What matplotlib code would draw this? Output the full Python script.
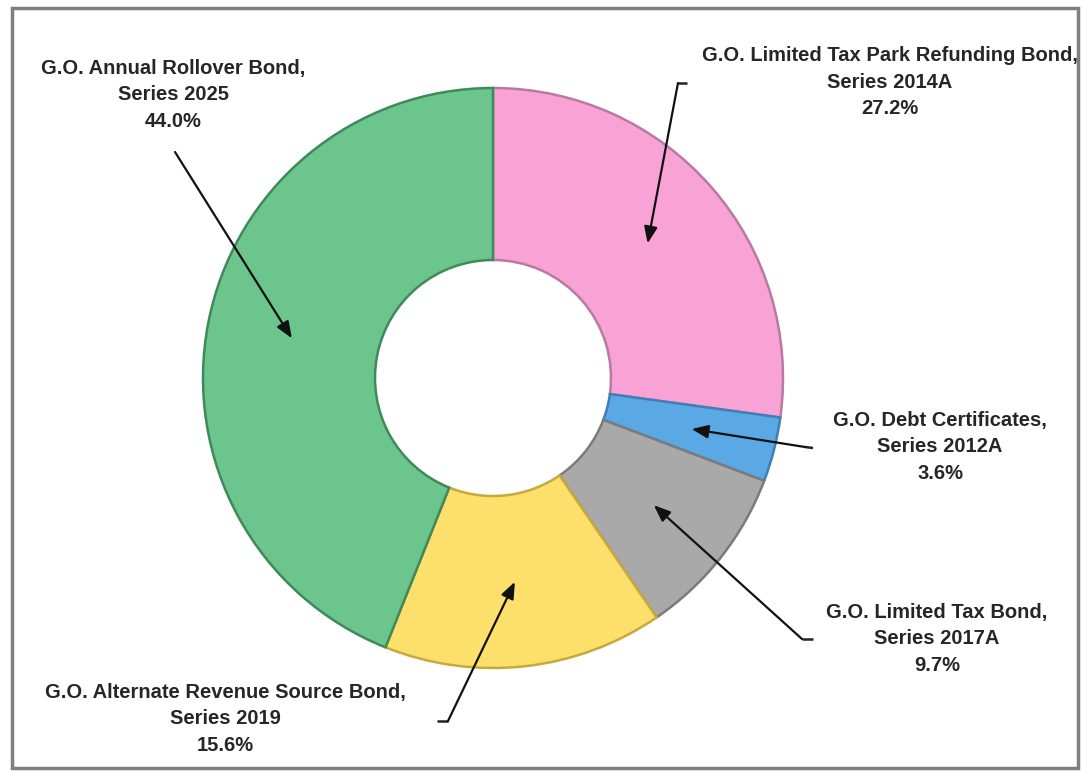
import numpy as np
import matplotlib.pyplot as plt
from matplotlib.patches import Rectangle

# debt shares, clockwise from 12 o'clock
names = [
    "G.O. Limited Tax Park Refunding Bond,\nSeries 2014A",
    "G.O. Debt Certificates,\nSeries 2012A",
    "G.O. Limited Tax Bond,\nSeries 2017A",
    "G.O. Alternate Revenue Source Bond,\nSeries 2019",
    "G.O. Annual Rollover Bond,\nSeries 2025",
]
shares = [27.2, 3.6, 9.7, 15.6, 44.0]
colors = ["#f9a2d6", "#5aa8e4", "#a9a9a9", "#fddf6c", "#6cc58d"]
edges = ["#b97a9f", "#3f7fb5", "#7b7b7b", "#c8aa3c", "#3e8a5a"]

W, H = 1083, 773
fig = plt.figure(figsize=(W / 100, H / 100), dpi=100)
ax = fig.add_axes([0, 0, 1, 1])

cx, cy = 493, H - 378
R, hole = 290, 118
wedges, _ = ax.pie(shares, colors=colors, startangle=90, counterclock=False,
                   radius=R, center=(cx, cy),
                   wedgeprops=dict(width=R - hole, linewidth=1.8))
for w, ec in zip(wedges, edges):
    w.set_edgecolor(ec)

ax.set_xlim(0, W)
ax.set_ylim(0, H)
ax.set_aspect("equal")
ax.axis("off")

# label block centre (x, y of middle line) and leader path in pixels from top
labels = [
    ((890, 82), [(687, 83), (678, 83)]),
    ((940, 447), [(813, 448), (805, 447)]),
    ((937, 639), [(813, 639), (802, 639)]),
    ((225, 719), [(437, 721), (448, 721)]),
    ((173, 95), [(175, 152), (175, 152)]),
]

angle = 90.0
for name, val, (pos, path) in zip(names, shares, labels):
    mid = np.deg2rad(angle - val * 3.6 / 2)
    angle -= val * 3.6
    tip = (cx + 205 * np.cos(mid), cy + 205 * np.sin(mid))
    ax.text(pos[0], H - pos[1], f"{name}\n{val:.1f}%", ha="center", va="center",
            fontsize=14.5, fontweight="bold", family="Liberation Sans",
            color="#262626", linespacing=1.5)
    (x0, y0), (x1, y1) = path
    ax.plot([x0, x1], [H - y0, H - y1], color="#222222", lw=1.8,
            solid_capstyle="butt")
    ax.annotate("", xy=tip, xytext=(x1, H - y1),
                arrowprops=dict(arrowstyle="-|>,head_length=1.0,head_width=0.4",
                                color="#111111", lw=1.6, shrinkA=0, shrinkB=0))

fig.patches.append(Rectangle((12 / W, 5 / H), 1066 / W, 760 / H, transform=fig.transFigure,
                             fill=False, edgecolor="#7f7f7f", lw=2.5))

fig.savefig("out.png", dpi=100, facecolor="white")
